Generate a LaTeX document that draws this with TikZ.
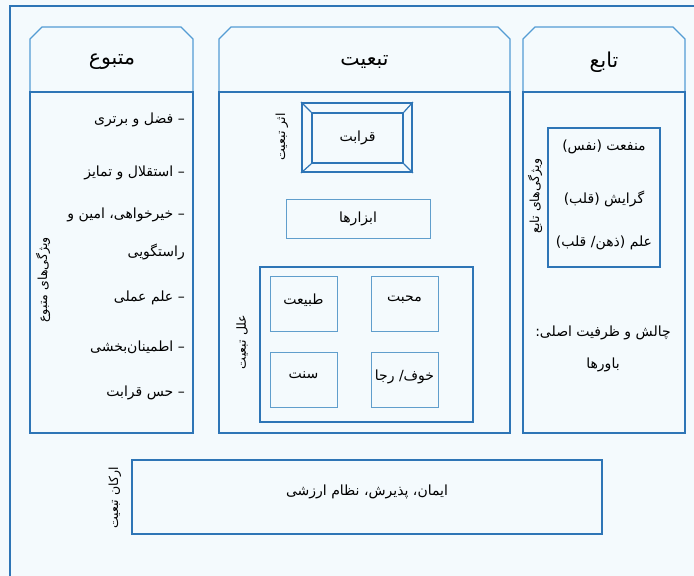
\documentclass[tikz,border=0pt]{standalone}
\usepackage{fontspec}
\usepackage{xcolor}
\newfontfamily\farsi[Script=Arabic]{DejaVu Sans}
\TeXXeTstate=1
\newcommand{\rl}[1]{\beginR #1\endR}
\newcommand{\fabody}{\farsi\fontsize{14}{17}\selectfont}
\newcommand{\fahead}{\farsi\fontsize{20.5}{24}\selectfont}
\newcommand{\faside}{\farsi\fontsize{12.5}{15}\selectfont}
\definecolor{framec}{RGB}{46,117,182}
\definecolor{headc}{RGB}{84,156,212}
\definecolor{thinc}{RGB}{96,158,204}
\definecolor{bgc}{RGB}{244,250,253}
\begin{document}
\begin{tikzpicture}[x=1pt,y=1pt,yscale=-1,
  colhead/.style={draw=headc,line width=1.1pt},
  colbody/.style={draw=framec,line width=1.3pt},
  thinbox/.style={draw=thinc,line width=0.9pt,inner sep=0pt,font=\fabody},
  thickbox/.style={draw=framec,line width=1.8pt,inner sep=0pt,font=\fabody},
  bodytext/.style={font=\fabody,inner sep=0pt},
  sidetext/.style={font=\faside,rotate=90,inner sep=0pt},
  headtext/.style={font=\fahead,inner sep=0pt}]

%background
\useasboundingbox (0,0) rectangle (694,576);
\fill[bgc] (0,0) rectangle (694,576);
%outer frame
\draw[framec,line width=2pt] (9.5,600) -- (9.5,6) -- (700,6);

%columns: header and body
\foreach \xa/\xb in {30/193,219/510,523/685}{
  \draw[colhead] (\xa,92) -- (\xa,39) -- (\xa+12,27) -- (\xb-12,27) -- (\xb,39) -- (\xb,92);
  \draw[colbody] (\xa,92) rectangle (\xb,433);
}

% Headers
\node[headtext] (matbu) at (112,62) {\rl{متبوع}};
\node[headtext] (tabaiyat) at (364.5,62) {\rl{تبعیت}};
\node[headtext] (tabe) at (604,62) {\rl{تابع}};

% Left column
\node[sidetext] (vizhmatbu) at (43,280) {\rl{ویژگی‌های متبوع}};
\node[bodytext,anchor=east] (fazl) at (185,120) {\rl{– فضل و برتری}};
\node[bodytext,anchor=east] (esteqlal) at (185,173) {\rl{– استقلال و تمایز}};
\node[bodytext,anchor=east,align=right] (kheir) at (185,234) {\rl{– خیرخواهی، امین و}\\[21pt]\rl{راستگویی}};
\node[bodytext,anchor=east] (elmamali) at (185,298) {\rl{– علم عملی}};
\node[bodytext,anchor=east] (etminan) at (185,347) {\rl{– اطمینان‌بخشی}};
\node[bodytext,anchor=east] (hess) at (185,393) {\rl{– حس قرابت}};

% Middle column
\node[thickbox,minimum width=110,minimum height=69] (qarabatout) at (357,137.5) {};
\node[thickbox,minimum width=91,minimum height=50] (qarabat) at (357.5,138) {\rl{قرابت}};
\foreach \c in {north west,north east,south west,south east}
  \draw[framec,line width=1.2pt] (qarabatout.\c) -- (qarabat.\c);
\node[sidetext] (asar) at (282,137) {\rl{اثر تبعیت}};

\node[thinbox,minimum width=144,minimum height=39] (abzar) at (358,218.5) {\rl{ابزارها}};

\node[draw=framec,line width=1.6pt,minimum width=213,minimum height=155] (elal) at (366.5,344.5) {};
\node[sidetext] (elallabel) at (242,342) {\rl{علل تبعیت}};
\node[thinbox,minimum width=67,minimum height=55,text depth=9pt] (tabiat) at (303.5,303.5) {\rl{طبیعت}};
\node[thinbox,minimum width=67,minimum height=55,text depth=9pt] (mohabbat) at (404.5,303.5) {\rl{محبت}};
\node[thinbox,minimum width=67,minimum height=55,text depth=9pt] (sonnat) at (303.5,380) {\rl{سنت}};
\node[thinbox,minimum width=67,minimum height=55,text depth=9pt] (khof) at (404.5,380) {\rl{خوف/ رجا}};

% Right column
\node[thickbox,line width=1.6pt,minimum width=112,minimum height=139] (vizhbox) at (604,197.5) {};
\node[sidetext] (vizhtabe) at (535,196) {\rl{ویژگی‌های تابع}};
\node[bodytext] (manfaat) at (604,147) {\rl{منفعت (نفس)}};
\node[bodytext] (gerayesh) at (604,199) {\rl{گرایش (قلب)}};
\node[bodytext] (elm) at (604,243) {\rl{علم (ذهن/ قلب)}};
\node[bodytext] (chalesh) at (603,333) {\rl{چالش و ظرفیت اصلی:}};
\node[bodytext] (bavarha) at (603,365) {\rl{باورها}};

% Bottom
\node[thickbox,minimum width=470,minimum height=74,text depth=14pt] (arkan) at (367,497) {\rl{ایمان، پذیرش، نظام ارزشی}};
\node[sidetext] (arkanlabel) at (115,498) {\rl{ارکان تبعیت}};

\end{tikzpicture}
\end{document}
